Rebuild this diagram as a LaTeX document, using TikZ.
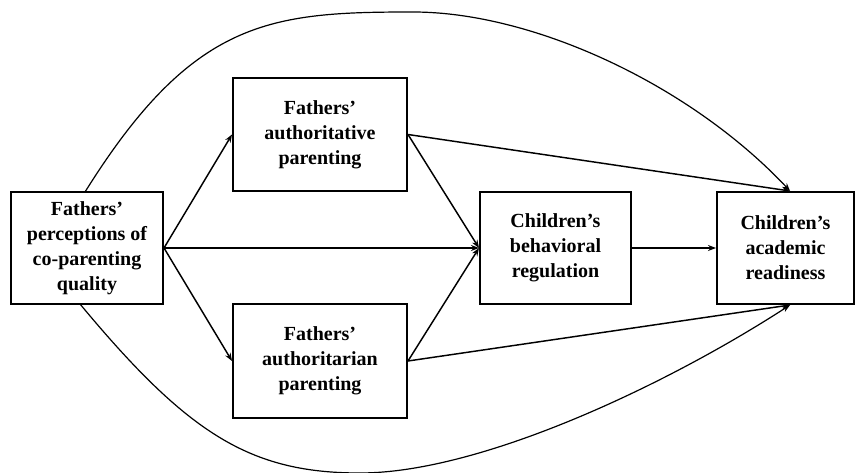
\documentclass[tikz,border=0pt]{standalone}
\usepackage{fontspec}
\setmainfont{Liberation Serif}
\usetikzlibrary{positioning}
\usetikzlibrary{arrows.meta}

\tikzset{
  varbox/.style={draw, line width=1.5pt, align=center, inner sep=0pt,
    minimum height=84pt, font=\fontsize{15}{18.75}\selectfont\bfseries},
  pathline/.style={line width=1.1pt, -{Stealth[length=6pt,width=4.5pt]}},
  bigcurve/.style={line width=0.9pt, -{Stealth[length=6pt,width=4.5pt]}}
}

\begin{document}
\begin{tikzpicture}[x=0.75pt,y=-0.75pt]
\useasboundingbox (0,0) rectangle (856,473);

% boxes
{
\node[varbox, minimum width=114pt] (coparent) at (87,248)
  {Fathers’\\perceptions of\\co-parenting\\quality};
\node[varbox, minimum width=130.5pt, minimum height=84.75pt] (authoritative) at (320,134.5)
  {Fathers’\\authoritative\\parenting};
\node[varbox, minimum width=130.5pt, minimum height=85.5pt] (authoritarian) at (320,361)
  {Fathers’\\authoritarian\\parenting};
\node[varbox, minimum width=113.25pt] (behav) at (555.5,248)
  {Children’s\\behavioral\\regulation};
\node[varbox, minimum width=102.75pt] (ready) at (785.5,248)
  {Children’s\\academic\\readiness};
}

% arrow ends on the outcome box
\coordinate (readytop) at ([xshift=3.4pt]ready.north);
\coordinate (readybot) at ([xshift=3.4pt]ready.south);

% straight paths
{
\draw[pathline] (coparent.east) -- (authoritative.west);
\draw[pathline] (coparent.east) -- (authoritarian.west);
\draw[pathline] (coparent.east) -- (behav.west);

\draw[pathline] (authoritative.east) -- (behav.west);
\draw[pathline] (authoritarian.east) -- (behav.west);

\draw[pathline] (authoritative.east) -- (readytop);
\draw[pathline] (authoritarian.east) -- (readybot);

\draw[pathline] (behav.east) -- (ready.west);
}

% direct curves
{
\coordinate (topstart) at (85,192);
\coordinate (topmid) at (413,12);
\coordinate (botstart) at (80,304);
\coordinate (botmid) at (360,473);

\draw[bigcurve] (topstart) .. controls (193,19) and (270,12) .. (topmid)
  .. controls (533,12) and (690,84.5) .. (readytop);
\draw[bigcurve] (botstart) .. controls (188,434) and (250,473) .. (botmid)
  .. controls (480,473) and (665,386) .. (readybot);
}
\end{tikzpicture}
\end{document}
